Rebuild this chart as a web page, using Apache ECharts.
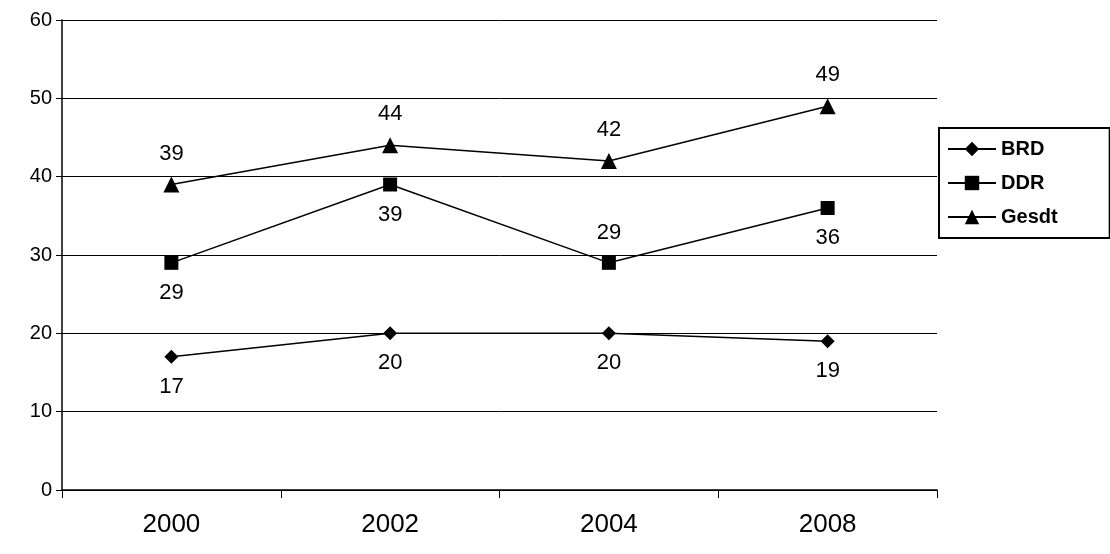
<!DOCTYPE html>
<html>
<head>
<meta charset="utf-8">
<script src="https://cdn.jsdelivr.net/npm/echarts@6/dist/echarts.min.js"></script>
<style>html,body{margin:0;padding:0;background:#fff}#chart{width:1110px;height:554px}</style>
</head>
<body>
<div id="chart"></div>
<script>
const years = ['2000', '2002', '2004', '2008'];
const brd = [17, 20, 20, 19];
const ddr = [29, 39, 29, 36];
const gesdt = [39, 44, 42, 49];
const ddrLabelPos = ['bottom', 'bottom', 'top', 'bottom'];

const font = 'Liberation Sans, Arial, sans-serif';
const chart = echarts.init(document.getElementById('chart'));

function mkSeries(name, data, symbol, size, pos) {
    return {
        name: name,
        type: 'line',
        data: data.map((v, i) => ({
            value: v,
            label: {position: Array.isArray(pos) ? pos[i] : pos}
        })),
        symbol: symbol,
        symbolSize: size,
        lineStyle: {color: '#000', width: 1.5},
        itemStyle: {color: '#000'},
        label: {show: true, color: '#000', fontSize: 22, fontFamily: font, distance: 12},
        animation: false
    };
}

chart.setOption({
    grid: {left: 62, right: 173, top: 20, bottom: 64},
    legend: {
        orient: 'vertical',
        left: 939,
        top: 128,
        itemWidth: 48,
        itemHeight: 18,
        itemGap: 14,
        padding: [11, 52, 11, 8],
        borderColor: '#000',
        borderWidth: 2,
        textStyle: {fontSize: 20, fontWeight: 'bold', fontFamily: font, color: '#000'},
        data: ['BRD', 'DDR', 'Gesdt']
    },
    xAxis: {
        type: 'category',
        data: years,
        boundaryGap: true,
        axisLine: {lineStyle: {color: '#000', width: 1.5}},
        axisTick: {show: true, length: 8, lineStyle: {color: '#000'}},
        axisLabel: {fontSize: 26, color: '#000', fontFamily: font, margin: 22}
    },
    yAxis: {
        type: 'value',
        min: 0, max: 60, interval: 10,
        axisLine: {show: true, lineStyle: {color: '#000', width: 1.5}},
        axisTick: {show: true, length: 6, lineStyle: {color: '#000'}},
        axisLabel: {fontSize: 20, color: '#000', fontFamily: font, margin: 10},
        splitLine: {lineStyle: {color: '#000', width: 1}}
    },
    series: [
        mkSeries('BRD', brd, 'diamond', 14, 'bottom'),
        mkSeries('DDR', ddr, 'rect', 14, ddrLabelPos),
        mkSeries('Gesdt', gesdt, 'triangle', 16, 'top')
    ]
});
</script>
</body>
</html>
